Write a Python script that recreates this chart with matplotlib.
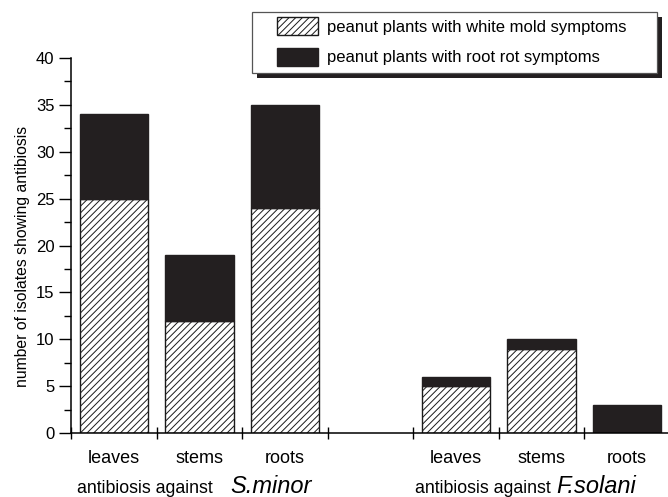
import matplotlib.pyplot as plt
from matplotlib.patches import Rectangle
from matplotlib.ticker import MultipleLocator
import numpy as np

plt.rcParams['font.family'] = ['Liberation Sans', 'DejaVu Sans']
plt.rcParams['hatch.linewidth'] = 0.7

parts = ["leaves", "stems", "roots", "leaves", "stems", "roots"]
white_mold = [25, 12, 24, 5, 9, 0]
root_rot = [9, 7, 11, 1, 1, 3]
pathogens = ["S.minor", "F.solani"]

# slot index of each bar: three for S.minor, one empty slot, three for F.solani
slots = np.array([0, 1, 2, 4, 5, 6]) + 0.5

W, H = 668, 497
fig = plt.figure(figsize=(W / 100, H / 100), dpi=100)
ax = fig.add_axes([71 / W, 1 - 433 / H, 0.8937, 375 / H])

ax.bar(slots, white_mold, width=0.8, color="white", edgecolor="#1a1a1a",
       hatch="/////", linewidth=1.0, label="peanut plants with white mold symptoms")
ax.bar(slots, root_rot, width=0.8, bottom=white_mold, color="#231f20",
       edgecolor="#231f20", linewidth=1.0, label="peanut plants with root rot symptoms")

ax.set_xlim(0, 6.98)
ax.set_ylim(0, 40)
ax.yaxis.set_major_locator(MultipleLocator(5))
ax.yaxis.set_minor_locator(MultipleLocator(2.5))
ax.set_xticks([0, 1, 2, 3, 4, 5, 6])
ax.set_xticklabels([])
ax.tick_params(axis="y", which="major", direction="out", length=9, width=1, labelsize=12, pad=3)
ax.tick_params(axis="y", which="minor", direction="out", length=5, width=1)
ax.tick_params(axis="x", direction="inout", length=9, width=1)
for s in ["top", "right"]:
    ax.spines[s].set_visible(False)
for s in ["left", "bottom"]:
    ax.spines[s].set_linewidth(1.1)

ax.set_ylabel("number of isolates showing antibiosis", fontsize=11.3)
ax.yaxis.set_label_coords(-0.068, 0.472)

for x, name in zip(slots, parts):
    ax.text(x, -3.2, name, ha="center", va="baseline", fontsize=13)

ax.text(0.07, -6.4, "antibiosis against", ha="left", va="baseline", fontsize=12.8)
ax.text(1.86, -6.4, pathogens[0], ha="left", va="baseline", fontsize=17, style="italic")
ax.text(4.02, -6.4, "antibiosis against", ha="left", va="baseline", fontsize=12.8)
ax.text(5.67, -6.4, pathogens[1], ha="left", va="baseline", fontsize=17, style="italic")

# legend box with a solid drop shadow
bx, by, bw, bh = 252, 12, 405, 61
fig.patches.append(Rectangle(((bx + 5) / W, 1 - (by + bh + 5) / H), bw / W, bh / H,
                             transform=fig.transFigure, facecolor="#231f20", edgecolor="none"))
fig.patches.append(Rectangle((bx / W, 1 - (by + bh) / H), bw / W, bh / H,
                             transform=fig.transFigure, facecolor="white",
                             edgecolor="#555555", linewidth=0.9))
leg = fig.legend(loc="upper left", bbox_to_anchor=(277 / W, 1 - 17 / H), fontsize=12,
                 frameon=False, borderpad=0, borderaxespad=0, handlelength=2.45,
                 handleheight=1.3, handletextpad=0.55, labelspacing=0.75)

plt.savefig("out.png", dpi=100)
